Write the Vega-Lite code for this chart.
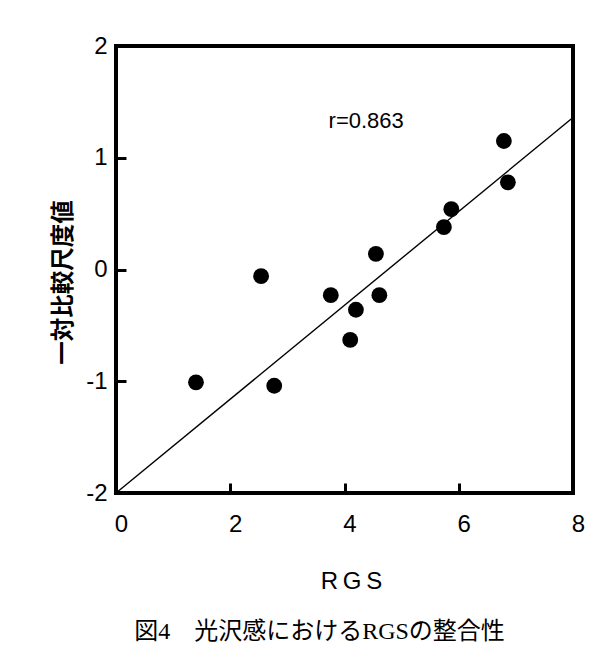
{
  "$schema": "https://vega.github.io/schema/vega-lite/v6.json",
  "width": 457,
  "height": 447,
  "autosize": {"type": "none"},
  "padding": {"left": 116, "top": 46, "right": 40, "bottom": 163},
  "background": "white",
  "datasets": {
    "points": [
      {"rgs": 1.40, "score": -1.01},
      {"rgs": 2.77, "score": -1.04},
      {"rgs": 2.54, "score": -0.06},
      {"rgs": 3.76, "score": -0.23},
      {"rgs": 4.20, "score": -0.36},
      {"rgs": 4.10, "score": -0.63},
      {"rgs": 4.55, "score": 0.14},
      {"rgs": 4.61, "score": -0.23},
      {"rgs": 5.74, "score": 0.38},
      {"rgs": 5.87, "score": 0.54},
      {"rgs": 6.79, "score": 1.15},
      {"rgs": 6.86, "score": 0.78}
    ],
    "fit": [
      {"rgs": 0, "score": -2.0},
      {"rgs": 8, "score": 1.36}
    ]
  },
  "title": {
    "text": "図4　光沢感におけるRGSの整合性",
    "orient": "bottom",
    "anchor": "middle",
    "frame": "group",
    "offset": 27,
    "dx": -25,
    "font": "Liberation Serif, Noto Sans CJK JP",
    "fontSize": 24,
    "fontWeight": "normal",
    "color": "#000"
  },
  "config": {
    "view": {"stroke": "#000", "strokeWidth": 4},
    "axis": {
      "grid": false,
      "zindex": 1,
      "domain": false,
      "offset": -10,
      "tickColor": "#000",
      "tickWidth": 3,
      "tickSize": 10,
      "labelFlush": false,
      "labelFont": "Liberation Sans",
      "labelFontSize": 24,
      "labelColor": "#000",
      "labelExpr": "'' + datum.value",
      "titleColor": "#000"
    }
  },
  "layer": [
    {
      "data": {"name": "fit"},
      "mark": {"type": "line", "color": "#000", "strokeWidth": 1.4},
      "encoding": {
        "x": {
          "field": "rgs",
          "type": "quantitative",
          "scale": {"domain": [0, 8], "nice": false},
          "axis": {
            "values": [0, 2, 4, 6, 8],
            "labelPadding": 19,
            "labelOffset": 5,
            "labelBaseline": "top",
            "title": "R\u2009G\u2009S",
            "titleFont": "Liberation Sans",
            "titleFontSize": 24,
            "titleFontWeight": "normal",
            "titleX": 235,
            "titlePadding": 33
          }
        },
        "y": {
          "field": "score",
          "type": "quantitative",
          "scale": {"domain": [-2, 2], "nice": false},
          "axis": {
            "values": [-2, -1, 0, 1, 2],
            "labelPadding": 9,
            "title": "一対比較尺度値",
            "titleFont": "Noto Sans CJK JP",
            "titleFontSize": 23.5,
            "titleFontWeight": "bold",
            "titleY": 236,
            "titlePadding": 10
          }
        }
      }
    },
    {
      "data": {"name": "points"},
      "mark": {"type": "circle", "color": "#000", "opacity": 1, "size": 250},
      "encoding": {
        "x": {"field": "rgs", "type": "quantitative"},
        "y": {"field": "score", "type": "quantitative"}
      }
    },
    {
      "data": {"values": [{"label": "r=0.863"}]},
      "mark": {
        "type": "text",
        "font": "Liberation Sans",
        "fontSize": 22,
        "color": "#000",
        "baseline": "alphabetic",
        "align": "center"
      },
      "encoding": {
        "x": {"datum": 4.38},
        "y": {"datum": 1.27},
        "text": {"field": "label"}
      }
    }
  ]
}
